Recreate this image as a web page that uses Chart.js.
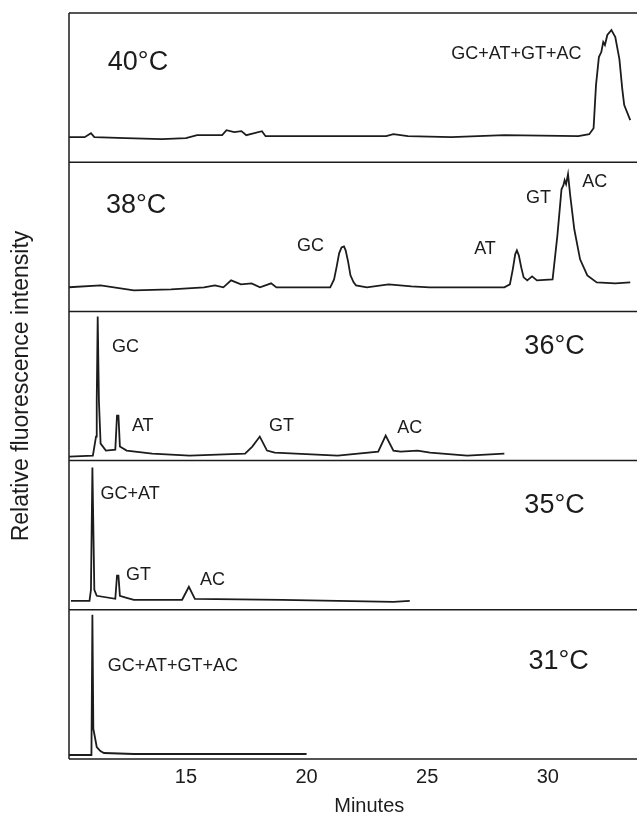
<!DOCTYPE html>
<html>
<head>
<meta charset="utf-8">
<script src="https://cdn.jsdelivr.net/npm/chart.js@4.4.1/dist/chart.umd.min.js"></script>
<style>
    body { margin: 0; background: #ffffff; }
    #wrap { width: 637px; height: 817px; position: relative; }
</style>
</head>
<body>
<div id="wrap"><canvas id="graphCanvas"></canvas></div>
<script>
// retention time (minutes) / fluorescence (relative units)
const minutes40 = [10.06, 10.8, 11.06, 11.2, 12.5, 14.0, 15.0, 15.46, 16.5, 16.68, 17.0, 17.3, 17.5, 18.15, 18.3, 23.3, 23.6, 24.2, 26.0, 28.2, 31.27, 31.72, 31.9, 32.0, 32.12, 32.22, 32.3, 32.37, 32.47, 32.64, 32.8, 32.97, 33.09, 33.17, 33.42];
const intensity40 = [25, 25, 29, 25, 24, 23, 24, 27, 27, 32, 30, 31, 27, 31, 26, 26, 28, 26, 25, 27, 26, 28, 34, 77, 105, 110, 120, 117, 127, 132, 125, 103, 73, 57, 42];

const minutes38 = [10.06, 11.46, 12.84, 14.38, 15.75, 16.2, 16.55, 16.87, 17.28, 17.72, 18.07, 18.53, 18.75, 20.98, 21.14, 21.25, 21.35, 21.45, 21.55, 21.62, 21.72, 21.82, 21.95, 22.05, 22.5, 23.4, 24.35, 25.1, 28.2, 28.43, 28.55, 28.65, 28.72, 28.8, 28.9, 29.0, 29.15, 29.35, 29.55, 30.2, 30.4, 30.57, 30.65, 30.7, 30.76, 30.84, 30.93, 31.1, 31.34, 31.64, 32.03, 32.8, 33.42];
const intensity38 = [24, 26, 21, 22, 24, 26, 24, 31, 27, 28, 24, 28, 24, 24, 32, 45, 58, 64, 65, 61, 50, 36, 29, 26, 24, 27, 25, 24, 24, 27, 42, 57, 61, 56, 44, 34, 31, 35, 31, 32, 76, 122, 126, 131, 127, 137, 116, 82, 52, 36, 29, 28, 29];

const minutes36 = [10.15, 11.14, 11.27, 11.3, 11.34, 11.39, 11.46, 11.68, 12.07, 12.14, 12.2, 12.26, 12.54, 13.6, 15.15, 17.45, 17.75, 18.06, 18.36, 18.68, 21.29, 22.97, 23.28, 23.6, 23.9, 24.6, 25.12, 26.66, 28.2];
const intensity36 = [4, 5, 24, 60, 144, 60, 17, 10, 11, 45, 45, 14, 10, 7, 5, 7, 14, 24, 10, 8, 5, 9, 25, 10, 9, 10, 8, 5, 7];

const minutes35 = [10.23, 11.0, 11.06, 11.12, 11.15, 11.2, 11.3, 12.07, 12.14, 12.2, 12.26, 12.54, 12.84, 14.84, 15.12, 15.37, 18.98, 23.6, 24.28];
const intensity35 = [9, 9, 20, 142, 97, 20, 14, 11, 34, 34, 14, 12, 10, 10, 23, 11, 10, 8, 9];

const minutes31 = [10.15, 11.08, 11.12, 11.16, 11.2, 11.3, 11.45, 11.6, 12.84, 20.0];
const intensity31 = [4, 4, 144, 30, 25, 12, 8, 6, 5, 5];

const minuteTicks = [15, 20, 25, 30];
const panelIds = ['p40', 'p38', 'p36', 'p35', 'p31'];

// text written inside the panels
const labelTexts = ['40°C', 'GC+AT+GT+AC', '38°C', 'GC', 'AT', 'GT', 'AC', '36°C', 'GC', 'AT', 'GT', 'AC', '35°C', 'GC+AT', 'GT', 'AC', '31°C', 'GC+AT+GT+AC'];
const labelPanels = [0, 0, 1, 1, 1, 1, 1, 2, 2, 2, 2, 2, 3, 3, 3, 3, 4, 4];
const labelMinutes = [11.76, 26.0, 11.68, 19.6, 26.95, 29.1, 31.43, 29.03, 11.93, 12.76, 18.44, 23.76, 29.03, 11.46, 12.51, 15.58, 29.2, 11.76];
const labelIntensity = [100, 108, 106, 65, 62, 113, 129, 114, 113, 35, 35, 33, 104, 116, 35, 30, 97, 93];

const FONT = '"Liberation Sans", Arial, Helvetica, sans-serif';
const INK = '#1c1c1c';

const traces = [
    [minutes40, intensity40],
    [minutes38, intensity38],
    [minutes36, intensity36],
    [minutes35, intensity35],
    [minutes31, intensity31]
];

const datasets = traces.map((t, i) => ({
    label: panelIds[i],
    data: t[0].map((m, j) => ({ x: m, y: t[1][j] })),
    yAxisID: panelIds[i],
    borderColor: INK,
    borderWidth: 1.8,
    pointRadius: 0,
    tension: 0,
    fill: false
}));

const scales = {
    x: {
        type: 'linear',
        position: 'bottom',
        min: 10.15,
        max: 33.7,
        grid: { display: false, drawTicks: false },
        border: { display: false },
        ticks: { font: { size: 20, family: FONT }, color: INK, padding: 6, autoSkip: false },
        afterBuildTicks: (scale) => {
            scale.ticks = minuteTicks.map(v => ({ value: v }));
        }
    }
};
// left stacked axes are laid out in reverse order, so add the bottom panel first
panelIds.slice().reverse().forEach((id) => {
    scales[id] = {
        type: 'linear',
        position: 'left',
        stack: 'panels',
        stackWeight: 1,
        min: 0,
        max: 149,
        ticks: { display: false },
        grid: { display: false, drawTicks: false },
        border: { display: false }
    };
});

// panel frames, labels and axis titles
const framePlugin = {
    id: 'frames',
    afterDatasetsDraw(chart) {
        const ctx = chart.ctx;
        const area = chart.chartArea;
        ctx.save();
        ctx.strokeStyle = INK;
        ctx.lineWidth = 1.5;
        ctx.beginPath();
        ctx.moveTo(area.left, area.top);
        ctx.lineTo(area.left, area.bottom);
        panelIds.forEach((id) => {
            const s = chart.scales[id];
            ctx.moveTo(area.left, s.top);
            ctx.lineTo(chart.width, s.top);
            ctx.moveTo(area.left, s.bottom);
            ctx.lineTo(chart.width, s.bottom);
        });
        ctx.stroke();

        ctx.fillStyle = INK;
        ctx.textBaseline = 'middle';
        ctx.textAlign = 'left';
        labelTexts.forEach((txt, i) => {
            const isTemp = txt.indexOf('°C') >= 0;
            ctx.font = (isTemp ? 27 : 18) + 'px ' + FONT;
            const xs = chart.scales.x.getPixelForValue(labelMinutes[i]);
            const ys = chart.scales[panelIds[labelPanels[i]]].getPixelForValue(labelIntensity[i]);
            ctx.fillText(txt, xs, ys);
        });

        ctx.font = '20px ' + FONT;
        ctx.textAlign = 'center';
        ctx.fillText('Minutes', chart.scales.x.getPixelForValue(22.6), 806);

        ctx.translate(22, (area.top + area.bottom) / 2);
        ctx.rotate(-Math.PI / 2);
        ctx.font = '23px ' + FONT;
        ctx.fillText('Relative fluorescence intensity', 0, 0);
        ctx.restore();
    }
};

const graphCanvas = new Chart(document.getElementById('graphCanvas').getContext('2d'), {
    type: 'line',
    data: { datasets: datasets },
    options: {
        responsive: true,
        maintainAspectRatio: false,
        animation: false,
        parsing: false,
        layout: { padding: { left: 69, top: 13, right: 0, bottom: 22 } },
        scales: scales,
        plugins: {
            legend: { display: false },
            tooltip: { enabled: false }
        }
    },
    plugins: [framePlugin]
});
</script>
</body>
</html>
